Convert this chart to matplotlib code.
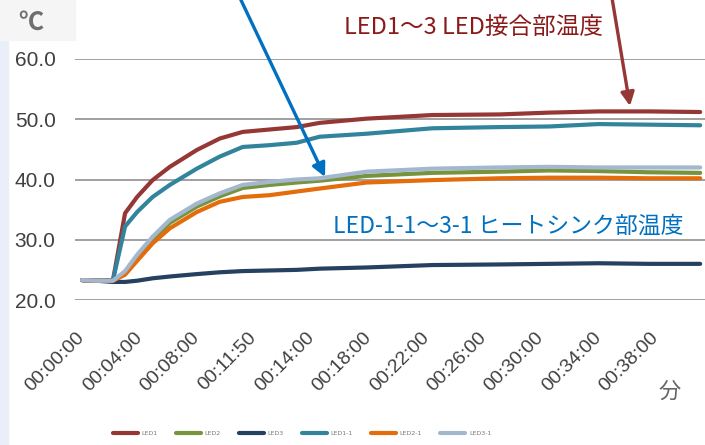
import matplotlib
matplotlib.use('Agg')
import matplotlib.pyplot as plt
from matplotlib.patches import Rectangle

# category position (0 = 00:00:00, 1 = 00:04:00, ...), temperatures in deg C
t = [0, 0.25, 0.54, 0.75, 0.96, 1.23, 1.53, 2.0, 2.4, 2.8, 3.27, 3.74, 4.14,
     4.96, 6.1, 7.27, 8.14, 9.0, 9.88, 10.77]
led1 = [23.3, 23.2, 23.3, 34.4, 37.1, 39.9, 42.1, 44.9, 46.8, 47.9, 48.3, 48.7,
        49.4, 50.1, 50.7, 50.8, 51.1, 51.3, 51.3, 51.2]
led2 = [23.3, 23.2, 23.2, 24.5, 27.0, 30.0, 32.8, 35.5, 37.2, 38.6, 39.1, 39.5,
        39.8, 40.6, 41.1, 41.3, 41.5, 41.4, 41.2, 41.1]
led3 = [23.3, 23.2, 23.0, 23.0, 23.2, 23.6, 23.9, 24.3, 24.6, 24.8, 24.9, 25.0,
        25.2, 25.4, 25.8, 25.9, 26.0, 26.1, 26.0, 26.0]
led1_1 = [23.3, 23.2, 23.3, 32.2, 34.6, 37.1, 39.1, 41.8, 43.8, 45.4, 45.7, 46.1,
          47.1, 47.6, 48.5, 48.7, 48.8, 49.2, 49.1, 49.0]
led2_1 = [23.3, 23.2, 23.2, 24.2, 26.5, 29.4, 31.9, 34.6, 36.3, 37.1, 37.4, 38.0,
          38.5, 39.5, 39.9, 40.2, 40.3, 40.3, 40.2, 40.2]
led3_1 = [23.3, 23.2, 23.2, 24.8, 27.5, 30.5, 33.3, 36.0, 37.7, 39.1, 39.6, 40.0,
          40.2, 41.3, 41.8, 42.0, 42.1, 42.0, 42.0, 42.0]

xlabels = ['00:00:00', '00:04:00', '00:08:00', '00:11:50', '00:14:00', '00:18:00',
           '00:22:00', '00:26:00', '00:30:00', '00:34:00', '00:38:00']
yticks = [20, 30, 40, 50, 60]

series = [('LED1', led1, '#953735'), ('LED2', led2, '#77933C'),
          ('LED3', led3, '#254061'), ('LED1-1', led1_1, '#31849B'),
          ('LED2-1', led2_1, '#E46C0A'), ('LED3-1', led3_1, '#A3B7CF')]

cjk = ['Noto Sans CJK JP', 'DejaVu Sans']
tickfont = ['Liberation Sans', 'DejaVu Sans']

fig = plt.figure(figsize=(7.05, 4.45), dpi=100)
fig.add_artist(Rectangle((0, 0), 8 / 705, 405 / 445, transform=fig.transFigure,
                         color='#e9eef8', zorder=0))
fig.add_artist(Rectangle((0, 405 / 445), 75 / 705, 40 / 445, transform=fig.transFigure,
                         color='#f5f5f5', zorder=0))

ax = fig.add_axes([75 / 705, 1 - 300 / 445, 630 / 705, 241 / 445])
ax.patch.set_alpha(0)

for name, vals, col in series:
    ax.plot(t, vals, color=col, lw=3, label=name, solid_capstyle='round')

ax.set_ylim(20, 60)
ax.set_xlim(-0.122, 10.854)
ax.set_yticks(yticks)
ax.set_yticklabels([f'{v:.1f}' for v in yticks], family=tickfont, fontsize=15,
                   color='#404040')
ax.set_xticks(range(len(xlabels)))
ax.set_xticklabels(xlabels, rotation=45, ha='right', va='center',
                   rotation_mode='anchor', family=tickfont, fontsize=14,
                   color='#404040')
ax.tick_params(axis='y', length=0, pad=14)
ax.tick_params(axis='x', length=0, pad=25)
ax.grid(axis='y', color='#a0a0a0', lw=1.4)
ax.set_axisbelow(True)
for s in ax.spines.values():
    s.set_visible(False)

fig.text(18 / 705, 1 - 23 / 445, '℃', family=cjk, fontsize=18, color='#6e6e6e',
         va='center', ha='left', fontweight='bold')
fig.text(670 / 705, 1 - 391 / 445, '分', family=cjk, fontsize=16, color='#666666',
         va='center', ha='center')

fig.text(473 / 705, 1 - 27 / 445, 'LED1～3 LED接合部温度', family=cjk, fontsize=17,
         color='#8B1A1A', ha='center', va='center')
fig.text(508 / 705, 1 - 226 / 445, 'LED-1-1～3-1 ヒートシンク部温度', family=cjk,
         fontsize=16.5, color='#0070C0', ha='center', va='center')

ax.annotate('', xy=(325, 445 - 177), xycoords='figure pixels',
            xytext=(240, 447), textcoords='figure pixels', annotation_clip=False,
            arrowprops=dict(arrowstyle='-|>', lw=2.4, color='#0070C0',
                            mutation_scale=20, shrinkA=0, shrinkB=0))
ax.annotate('', xy=(630, 445 - 106), xycoords='figure pixels',
            xytext=(612, 447), textcoords='figure pixels', annotation_clip=False,
            arrowprops=dict(arrowstyle='-|>', lw=2.4, color='#953735',
                            mutation_scale=20, shrinkA=0, shrinkB=0))

leg = fig.legend(loc='center', bbox_to_anchor=(302 / 705, 1 - 433 / 445), ncol=6,
                 frameon=False, fontsize=4.5, handlelength=4, columnspacing=2.9,
                 handletextpad=0.6)
for txt in leg.get_texts():
    txt.set_color('#777777')

fig.savefig('out.png', dpi=100)
